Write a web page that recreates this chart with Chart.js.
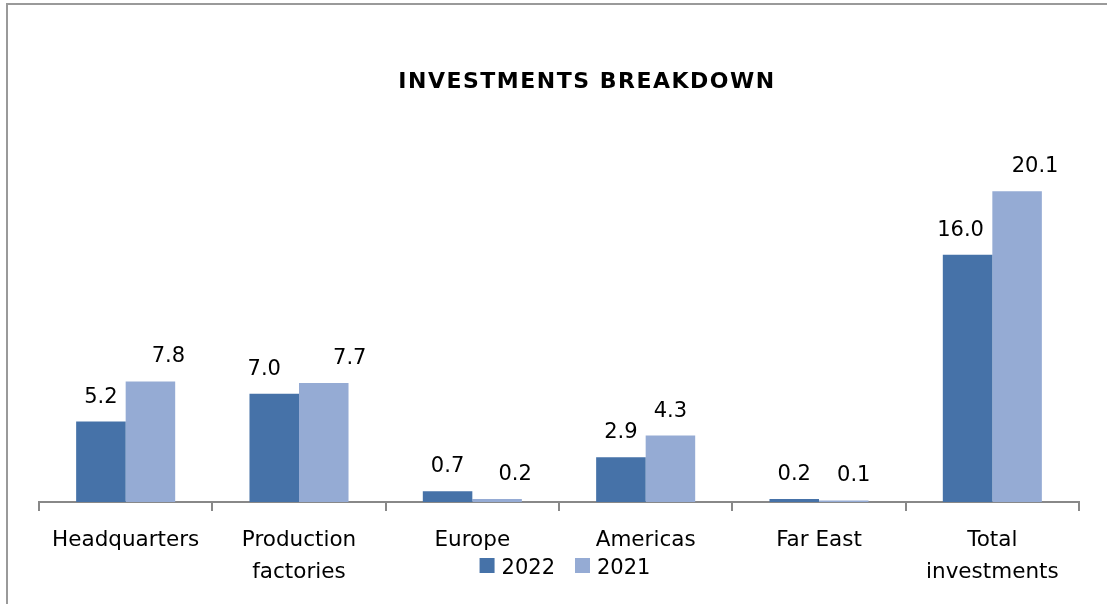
<!DOCTYPE html>
<html>
<head>
<meta charset="utf-8">
<script src="https://cdn.jsdelivr.net/npm/chart.js@4.4.0/dist/chart.umd.min.js"></script>
<style>
    html, body { margin: 0; padding: 0; background: #fff; }
    #wrap { width: 1107px; height: 604px; }
</style>
</head>
<body>
<div id="wrap"><canvas id="investChart" width="1107" height="604"></canvas></div>
<script>
// === DATA ===
const chartTitle = "INVESTMENTS BREAKDOWN";
const categories = ["Headquarters", ["Production", "factories"], "Europe", "Americas", "Far East", ["Total", "investments"]];
const seriesNames = ["2022", "2021"];
const values2022 = [5.2, 7.0, 0.7, 2.9, 0.2, 16.0];
const values2021 = [7.8, 7.7, 0.2, 4.3, 0.1, 20.1];

const FONT = "'DejaVu Sans', Verdana, sans-serif";
const AXIS_GREY = "#888888";

// frame, title, value labels and the legend (which sits between the two label rows, like Excel)
const decorPlugin = {
    id: "decor",
    beforeDraw(chart, args, opts) {
        const ctx = chart.ctx;
        ctx.save();
        ctx.fillStyle = "#ffffff";
        ctx.fillRect(0, 0, chart.width, chart.height);

        // outer chart frame (only top + left visible in the crop)
        ctx.strokeStyle = "#9a9a9a";
        ctx.lineWidth = 2;
        ctx.beginPath();
        ctx.moveTo(7, chart.height);
        ctx.lineTo(7, 4);
        ctx.lineTo(chart.width, 4);
        ctx.stroke();

        // title
        ctx.fillStyle = "#000";
        ctx.font = "bold 22px " + FONT;
        ctx.letterSpacing = "1.5px";
        ctx.textAlign = "center";
        ctx.textBaseline = "alphabetic";
        ctx.fillText(chartTitle, opts.titleX, opts.titleY);
        ctx.restore();
    },
    afterDatasetsDraw(chart, args, opts) {
        const ctx = chart.ctx;
        ctx.save();
        ctx.fillStyle = "#000";
        ctx.font = "21px " + FONT;
        ctx.textAlign = "center";
        ctx.textBaseline = "alphabetic";
        chart.data.datasets.forEach((ds, i) => {
            const meta = chart.getDatasetMeta(i);
            const shift = opts.shifts[i] || [];
            meta.data.forEach((bar, j) => {
                const txt = ds.data[j].toFixed(1);
                ctx.fillText(txt, bar.x + (shift[j] || 0), bar.y - 19);
            });
        });
        ctx.restore();
    },
    afterDraw(chart, args, opts) {
        // legend
        const ctx = chart.ctx;
        const box = 15, gapText = 7, gapItem = 20;
        ctx.save();
        ctx.font = "21px " + FONT;
        ctx.textBaseline = "alphabetic";
        ctx.textAlign = "left";
        const items = chart.data.datasets.map((ds) => ({
            text: ds.label,
            color: ds.backgroundColor,
            w: ctx.measureText(ds.label).width,
        }));
        let total = 0;
        items.forEach((it, i) => {
            total += box + gapText + it.w + (i < items.length - 1 ? gapItem : 0);
        });
        let x = opts.legendX - total / 2;
        const y = opts.legendY;
        items.forEach((it) => {
            ctx.fillStyle = it.color;
            ctx.fillRect(x, y - box / 2, box, box);
            ctx.fillStyle = "#000";
            ctx.fillText(it.text, x + box + gapText, y + 8);
            x += box + gapText + it.w + gapItem;
        });
        ctx.restore();
    }
};

const ctx = document.getElementById("investChart").getContext("2d");

new Chart(ctx, {
    type: "bar",
    data: {
        labels: categories,
        datasets: [
            {
                label: seriesNames[0],
                data: values2022,
                backgroundColor: "#4672a8",
                borderWidth: 0,
            },
            {
                label: seriesNames[1],
                data: values2021,
                backgroundColor: "#95abd4",
                borderWidth: 0,
            },
        ],
    },
    options: {
        responsive: false,
        animation: false,
        layout: {
            padding: { left: 39, right: 28, top: 131, bottom: 12 },
        },
        datasets: {
            bar: { categoryPercentage: 0.5714, barPercentage: 1.0 },
        },
        plugins: {
            title: { display: false },
            tooltip: { enabled: false },
            legend: { display: false },
            decor: {
                titleX: 587,
                titleY: 88,
                legendX: 565,
                legendY: 565.5,
                // label nudges as in the original layout
                shifts: [
                    [0, -10, 0, 0, 0, -7],
                    [18, 26, 18, 0, 10, 18],
                ],
            },
        },
        scales: {
            x: {
                grid: {
                    display: true,
                    drawOnChartArea: false,
                    drawTicks: true,
                    tickLength: 9,
                    color: AXIS_GREY,
                    lineWidth: 2,
                },
                border: { display: true, color: AXIS_GREY, width: 2 },
                ticks: {
                    color: "#000",
                    maxRotation: 0,
                    autoSkip: false,
                    padding: 13,
                    font: { family: FONT, size: 21.5, lineHeight: 1.5 },
                },
                afterFit: (scale) => {
                    scale.height = 90;
                },
            },
            y: {
                display: false,
                min: 0,
                max: 24,
            },
        },
    },
    plugins: [decorPlugin],
});
</script>
</body>
</html>
